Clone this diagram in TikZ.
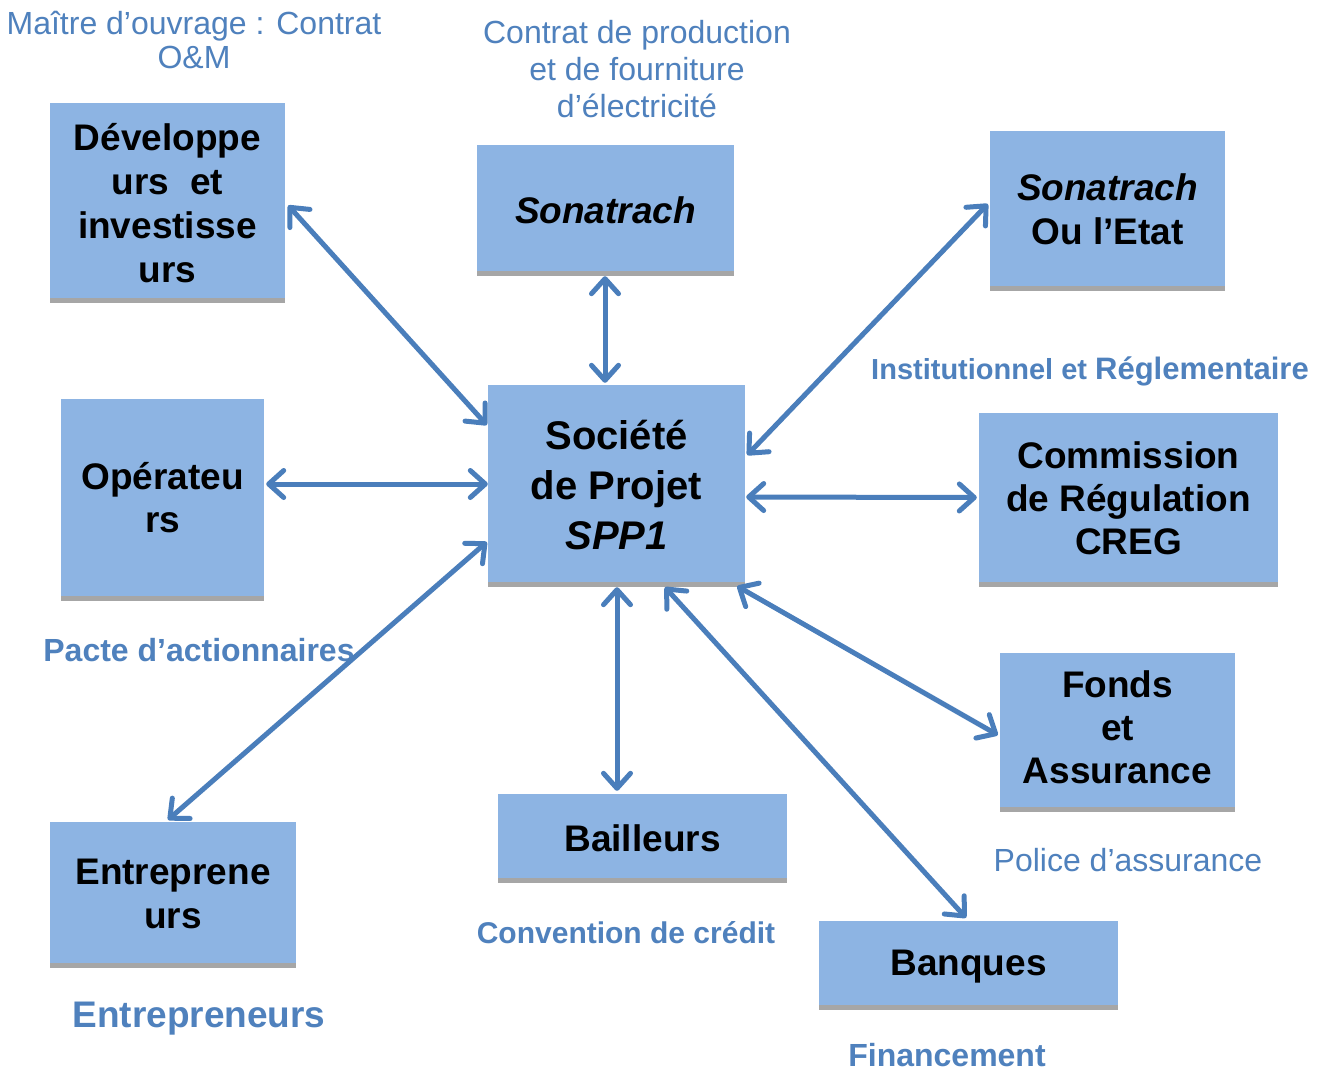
\documentclass[tikz,border=0pt]{standalone}
\usepackage{fontspec}
\setmainfont{Liberation Sans}
\usetikzlibrary{arrows.meta,calc}
\definecolor{boxblue}{HTML}{8DB4E3}
\definecolor{arrowblue}{HTML}{4A7EBB}
\definecolor{labelblue}{HTML}{4F81BD}
\definecolor{shadowgray}{HTML}{A6A6A6}
\newcommand{\fsz}[2]{\fontsize{#1}{#2}\selectfont}
\tikzset{
  box/.style={fill=boxblue, inner sep=0pt},
  boxtext/.style={inner sep=0pt, align=center, text=black, font=\bfseries\fsz{37}{44}},
  lbl/.style={text=labelblue, inner sep=0pt, align=center, anchor=base},
  link/.style={draw=arrowblue, line width=5pt, line cap=round,
    {Straight Barb[length=15pt,width=27pt,round]}-{Straight Barb[length=15pt,width=27pt,round]}},
}
\begin{document}
\begin{tikzpicture}[x=1pt,y=-1pt]
\useasboundingbox (0,0) rectangle (1330,1072);
\fill[white] (0,0) rectangle (1330,1072);
% boxes
\node[box, minimum width=235, minimum height=195] (dev) at (167.5,200.5) {};
\node[box, minimum width=257, minimum height=126] (son) at (605.5,208) {};
\node[box, minimum width=235, minimum height=155] (etat) at (1107.5,208.5) {};
\node[box, minimum width=203, minimum height=197] (oper) at (162.5,497.5) {};
\node[box, minimum width=257, minimum height=197] (spp) at (616.5,483.5) {};
\node[box, minimum width=299, minimum height=169] (creg) at (1128.5,497.5) {};
\node[box, minimum width=235, minimum height=154] (fonds) at (1117.5,730) {};
\node[box, minimum width=246, minimum height=141] (entr) at (173,892.5) {};
\node[box, minimum width=289, minimum height=84] (bail) at (642.5,836) {};
\node[box, minimum width=299, minimum height=84] (banq) at (968.5,963) {};
\foreach \n in {dev,son,etat,oper,spp,creg,fonds,entr,bail,banq}
  \fill[shadowgray] (\n.south west) rectangle ($(\n.south east)+(0,5)$);
% box texts
\node[boxtext] (devT) at ($(dev.center)+(0,3)$) {Développe\\urs\ \ et\\investisse\\urs};
\node[boxtext] (sonT) at ($(son.center)+(0,2)$) {\textit{Sonatrach}};
\node[boxtext] (etatT) at ($(etat.center)+(0,1)$) {\textit{Sonatrach}\\Ou l’Etat};
\node[boxtext, font=\bfseries\fsz{37}{43}] (operT) at (oper.center) {Opérateu\\rs};
\node[boxtext, font=\bfseries\fsz{40}{50}] (sppT) at ($(spp.center)+(0,2)$) {Société\\de Projet\\\textit{SPP1}};
\node[boxtext, font=\bfseries\fsz{37}{43}] (cregT) at ($(creg.center)+(0,1)$) {Commission\\de Régulation\\CREG};
\node[boxtext, font=\bfseries\fsz{37}{43}] (fondsT) at ($(fonds.center)+(0,-3)$) {Fonds\\et\\Assurance};
\node[boxtext] (entrT) at ($(entr.center)+(0,1)$) {Entreprene\\urs};
\node[boxtext] (bailT) at ($(bail.center)+(0,2)$) {Bailleurs};
\node[boxtext] (banqT) at ($(banq.center)+(0,4)$) {Banques};
% labels
\node[lbl, font=\fsz{32}{34}, anchor=north] (maitre) at (194,11) {Maître d’ouvrage : Contrat\\O\&M};
\node[lbl, font=\fsz{32}{37}, anchor=north] (contrat) at (637,20) {Contrat de production\\et de fourniture\\d’électricité};
\node[lbl, font=\bfseries] (inst) at (1090,379) {\fsz{29}{34}Institutionnel et \fsz{31}{34}Réglementaire};
\node[lbl, font=\bfseries\fsz{32}{36}] (pacte) at (199,661) {Pacte d’actionnaires};
\node[lbl, font=\bfseries\fsz{30}{36}] (conv) at (626,943) {Convention de crédit};
\node[lbl, font=\fsz{32}{36}] (police) at (1128,871) {Police d’assurance};
\node[lbl, font=\bfseries\fsz{37}{42}] (entrtxt) at (199,1027) {Entrepreneurs};
\node[lbl, font=\bfseries\fsz{32}{36}] (fin) at (947,1066) {Financement};
% connectors
\draw[link] ($(dev.east)+(3,5)$) -- ($(spp.west)+(-1,-58.5)$);
\draw[link] ($(son.south)+(-0.5,5)$) -- ($(spp.north)+(-11.5,-2)$);
\draw[link] ($(etat.west)+(-2,-4.5)$) -- ($(spp.east)+(2,-28.5)$);
\draw[link] ($(oper.east)+(2,-13.5)$) -- ($(spp.west)+(0,0.5)$);
\draw[link] ($(spp.east)+(1,13.5)$) -- ($(creg.west)+(-2,0)$);
\draw[link] ($(entr.north)+(-5,-2)$) -- ($(spp.west)+(-1,58.5)$);
\draw[link] ($(spp.south)+(0.5,5)$) -- ($(bail.north)+(-25.5,-3)$);
\draw[link] ($(spp.south)+(48.5,5)$) -- ($(banq.north)+(-2.5,-3)$);
\draw[link] ($(spp.south east)+(-8,4)$) -- ($(fonds.west)+(-2,5)$);
\end{tikzpicture}
\end{document}
